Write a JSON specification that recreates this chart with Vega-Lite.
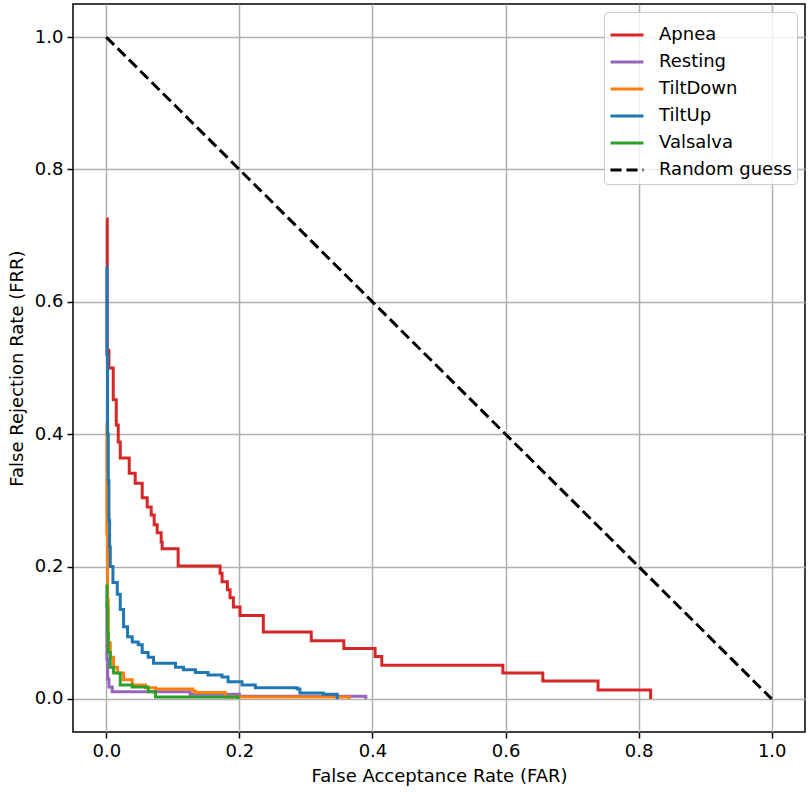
{
  "$schema": "https://vega.github.io/schema/vega-lite/v6.json",
  "autosize": {"type": "none"},
  "width": 732,
  "height": 728,
  "padding": {"left": 73, "top": 4, "right": 5, "bottom": 60},
  "background": "white",
  "config": {
    "font": "DejaVu Sans",
    "view": {"stroke": "black", "strokeWidth": 1.5},
    "axis": {
      "domain": false,
      "grid": true,
      "gridColor": "#b0b0b0",
      "gridWidth": 1.5,
      "tickColor": "black",
      "tickWidth": 1.5,
      "tickSize": 6,
      "labelFont": "DejaVu Sans",
      "labelFontSize": 18,
      "labelColor": "black",
      "labelPadding": 4,
      "titleFont": "DejaVu Sans",
      "titleFontSize": 18,
      "titleFontWeight": "normal",
      "titleColor": "black"
    },
    "legend": {
      "labelFont": "DejaVu Sans",
      "labelFontSize": 18,
      "labelColor": "black"
    }
  },
  "datasets": {
    "curves": [
      {"series": "Apnea", "far": 0.0, "frr": 0.725},
      {"series": "Apnea", "far": 0.0015, "frr": 0.527},
      {"series": "Apnea", "far": 0.004, "frr": 0.5},
      {"series": "Apnea", "far": 0.0105, "frr": 0.452},
      {"series": "Apnea", "far": 0.015, "frr": 0.414},
      {"series": "Apnea", "far": 0.018, "frr": 0.388},
      {"series": "Apnea", "far": 0.021, "frr": 0.364},
      {"series": "Apnea", "far": 0.0345, "frr": 0.341},
      {"series": "Apnea", "far": 0.0435, "frr": 0.326},
      {"series": "Apnea", "far": 0.054, "frr": 0.304},
      {"series": "Apnea", "far": 0.0615, "frr": 0.29},
      {"series": "Apnea", "far": 0.0675, "frr": 0.278},
      {"series": "Apnea", "far": 0.072, "frr": 0.263},
      {"series": "Apnea", "far": 0.0765, "frr": 0.251},
      {"series": "Apnea", "far": 0.0825, "frr": 0.237},
      {"series": "Apnea", "far": 0.084, "frr": 0.227},
      {"series": "Apnea", "far": 0.108, "frr": 0.201},
      {"series": "Apnea", "far": 0.171, "frr": 0.19},
      {"series": "Apnea", "far": 0.174, "frr": 0.177},
      {"series": "Apnea", "far": 0.182, "frr": 0.165},
      {"series": "Apnea", "far": 0.186, "frr": 0.153},
      {"series": "Apnea", "far": 0.191, "frr": 0.139},
      {"series": "Apnea", "far": 0.201, "frr": 0.126},
      {"series": "Apnea", "far": 0.236, "frr": 0.101},
      {"series": "Apnea", "far": 0.308, "frr": 0.088},
      {"series": "Apnea", "far": 0.357, "frr": 0.076},
      {"series": "Apnea", "far": 0.404, "frr": 0.064},
      {"series": "Apnea", "far": 0.414, "frr": 0.051},
      {"series": "Apnea", "far": 0.596, "frr": 0.039},
      {"series": "Apnea", "far": 0.656, "frr": 0.027},
      {"series": "Apnea", "far": 0.739, "frr": 0.0136},
      {"series": "Apnea", "far": 0.818, "frr": 0.0},

      {"series": "Resting", "far": 0.0, "frr": 0.145},
      {"series": "Resting", "far": 0.001, "frr": 0.06},
      {"series": "Resting", "far": 0.002, "frr": 0.03},
      {"series": "Resting", "far": 0.004, "frr": 0.018},
      {"series": "Resting", "far": 0.009, "frr": 0.011},
      {"series": "Resting", "far": 0.126, "frr": 0.007},
      {"series": "Resting", "far": 0.2, "frr": 0.004},
      {"series": "Resting", "far": 0.39, "frr": 0.0},

      {"series": "TiltDown", "far": 0.0, "frr": 0.417},
      {"series": "TiltDown", "far": 0.001, "frr": 0.25},
      {"series": "TiltDown", "far": 0.002, "frr": 0.15},
      {"series": "TiltDown", "far": 0.003, "frr": 0.085},
      {"series": "TiltDown", "far": 0.006, "frr": 0.063},
      {"series": "TiltDown", "far": 0.011, "frr": 0.048},
      {"series": "TiltDown", "far": 0.017, "frr": 0.039},
      {"series": "TiltDown", "far": 0.026, "frr": 0.029},
      {"series": "TiltDown", "far": 0.039, "frr": 0.021},
      {"series": "TiltDown", "far": 0.059, "frr": 0.017},
      {"series": "TiltDown", "far": 0.074, "frr": 0.015},
      {"series": "TiltDown", "far": 0.13, "frr": 0.012},
      {"series": "TiltDown", "far": 0.134, "frr": 0.0095},
      {"series": "TiltDown", "far": 0.179, "frr": 0.003},
      {"series": "TiltDown", "far": 0.365, "frr": 0.0},

      {"series": "TiltUp", "far": 0.0, "frr": 0.653},
      {"series": "TiltUp", "far": 0.001, "frr": 0.52},
      {"series": "TiltUp", "far": 0.002, "frr": 0.4},
      {"series": "TiltUp", "far": 0.003, "frr": 0.33},
      {"series": "TiltUp", "far": 0.004, "frr": 0.27},
      {"series": "TiltUp", "far": 0.005, "frr": 0.23},
      {"series": "TiltUp", "far": 0.006, "frr": 0.2},
      {"series": "TiltUp", "far": 0.01, "frr": 0.176},
      {"series": "TiltUp", "far": 0.0165, "frr": 0.158},
      {"series": "TiltUp", "far": 0.021, "frr": 0.135},
      {"series": "TiltUp", "far": 0.026, "frr": 0.109},
      {"series": "TiltUp", "far": 0.032, "frr": 0.094},
      {"series": "TiltUp", "far": 0.039, "frr": 0.086},
      {"series": "TiltUp", "far": 0.048, "frr": 0.082},
      {"series": "TiltUp", "far": 0.054, "frr": 0.07},
      {"series": "TiltUp", "far": 0.063, "frr": 0.063},
      {"series": "TiltUp", "far": 0.071, "frr": 0.054},
      {"series": "TiltUp", "far": 0.104, "frr": 0.048},
      {"series": "TiltUp", "far": 0.116, "frr": 0.044},
      {"series": "TiltUp", "far": 0.134, "frr": 0.04},
      {"series": "TiltUp", "far": 0.153, "frr": 0.036},
      {"series": "TiltUp", "far": 0.174, "frr": 0.033},
      {"series": "TiltUp", "far": 0.183, "frr": 0.026},
      {"series": "TiltUp", "far": 0.204, "frr": 0.021},
      {"series": "TiltUp", "far": 0.224, "frr": 0.017},
      {"series": "TiltUp", "far": 0.287, "frr": 0.015},
      {"series": "TiltUp", "far": 0.291, "frr": 0.009},
      {"series": "TiltUp", "far": 0.326, "frr": 0.007},
      {"series": "TiltUp", "far": 0.347, "frr": 0.0},

      {"series": "Valsalva", "far": 0.0, "frr": 0.172},
      {"series": "Valsalva", "far": 0.001, "frr": 0.14},
      {"series": "Valsalva", "far": 0.002, "frr": 0.1},
      {"series": "Valsalva", "far": 0.003, "frr": 0.07},
      {"series": "Valsalva", "far": 0.006, "frr": 0.048},
      {"series": "Valsalva", "far": 0.011, "frr": 0.039},
      {"series": "Valsalva", "far": 0.021, "frr": 0.021},
      {"series": "Valsalva", "far": 0.039, "frr": 0.018},
      {"series": "Valsalva", "far": 0.063, "frr": 0.011},
      {"series": "Valsalva", "far": 0.074, "frr": 0.003},
      {"series": "Valsalva", "far": 0.198, "frr": 0.0}
    ],
    "diagonal": [
      {"series": "Random guess", "far": 0.0, "frr": 1.0},
      {"series": "Random guess", "far": 1.0, "frr": 0.0}
    ]
  },
  "encoding": {
    "x": {
      "field": "far",
      "type": "quantitative",
      "title": "False Acceptance Rate (FAR)",
      "scale": {"domain": [-0.05, 1.05], "nice": false, "zero": false},
      "axis": {"values": [0, 0.2, 0.4, 0.6, 0.8, 1.0], "format": ".1f", "titlePadding": 7}
    },
    "y": {
      "field": "frr",
      "type": "quantitative",
      "title": "False Rejection Rate (FRR)",
      "scale": {"domain": [-0.05, 1.05], "nice": false, "zero": false},
      "axis": {"values": [0, 0.2, 0.4, 0.6, 0.8, 1.0], "format": ".1f", "titlePadding": 8}
    },
    "color": {
      "field": "series",
      "type": "nominal",
      "scale": {
        "domain": ["Apnea", "Resting", "TiltDown", "TiltUp", "Valsalva", "Random guess"],
        "range": ["#d62728", "#9467bd", "#ff7f0e", "#1f77b4", "#2ca02c", "black"]
      },
      "legend": {
        "title": null,
        "orient": "top-right",
        "offset": 8,
        "symbolType": "stroke",
        "symbolSize": 1089,
        "symbolStrokeWidth": 3,
        "rowPadding": -9,
        "labelOffset": 14,
        "padding": 5,
        "fillColor": "rgba(255,255,255,0.8)",
        "strokeColor": "#cccccc",
        "cornerRadius": 4
      }
    },
    "strokeDash": {
      "field": "series",
      "type": "nominal",
      "scale": {
        "domain": ["Apnea", "Resting", "TiltDown", "TiltUp", "Valsalva", "Random guess"],
        "range": [[1, 0], [1, 0], [1, 0], [1, 0], [1, 0], [11, 5]]
      },
      "legend": null
    },
    "order": {"value": null}
  },
  "layer": [
    {
      "data": {"name": "curves"},
      "mark": {"type": "line", "interpolate": "step-after", "strokeWidth": 3}
    },
    {
      "data": {"name": "diagonal"},
      "mark": {"type": "line", "strokeWidth": 3}
    }
  ]
}
